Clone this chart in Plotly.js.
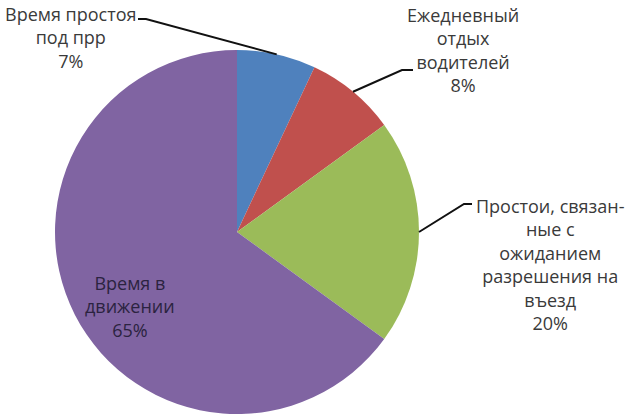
<!DOCTYPE html>
<html>
<head>
<meta charset="utf-8">
<script src="https://cdn.plot.ly/plotly-3.0.1.min.js"></script>
<style>
  body { margin: 0; background: #fff; }
  #pieChart { width: 627px; height: 416px; }
</style>
</head>
<body>
<div id="pieChart"></div>
<script>
// slices, in drawing order (clockwise from 12 o'clock)
var categories = ["Время простоя под прр", "Ежедневный отдых водителей",
  "Простои, связанные с ожиданием разрешения на въезд", "Время в движении"];
var shares = [7, 8, 20, 65];
// label text as broken in the picture
var labelLines = ["Время простоя<br>под прр", "Ежедневный<br>отдых<br>водителей",
  "Простои, связан-<br>ные с<br>ожиданием<br>разрешения на<br>въезд", "Время в<br>движении"];
var sliceColors = ["#4F81BD", "#C0504D", "#9BBB59", "#8064A2"];

var W = 627, H = 416;
var cx = 237, cy = 232, r = 182;

// label centres and elbow points (pixels)
var labelPos = [[70, 37], [463, 50], [550, 264], [130, 306]];
var elbows = [[[138, 19], [146, 19]], [[413, 70], [402, 70]], [[472, 204], [464, 204]], null];

function px(x) { return x / W; }
function py(y) { return 1 - y / H; }

var total = shares.reduce(function (a, b) { return a + b; }, 0);
var annotations = [];
var shapes = [];
var cum = 0;
shares.forEach(function (v, i) {
  var mid = (cum + v / 2) / total * 2 * Math.PI;
  cum += v;
  annotations.push({
    xref: "paper", yref: "paper",
    x: px(labelPos[i][0]), y: py(labelPos[i][1]),
    xanchor: "center", yanchor: "middle",
    text: labelLines[i] + "<br>" + Math.round(v / total * 100) + "%",
    showarrow: false,
    align: "center",
    font: {family: "Open Sans, sans-serif", size: 18, color: i === 3 ? "#2b2340" : "#3a3a3a"}
  });
  if (elbows[i]) {
    var ex = cx + r * Math.sin(mid), ey = cy - r * Math.cos(mid);
    var e = elbows[i];
    shapes.push({
      type: "path", xref: "paper", yref: "paper",
      path: "M" + px(e[0][0]) + "," + py(e[0][1]) + " L" + px(e[1][0]) + "," + py(e[1][1]) +
            " L" + px(ex) + "," + py(ey),
      line: {color: "#111", width: 2}
    });
  }
});

var pieTrace = {
  type: "pie",
  labels: categories,
  values: shares,
  sort: false,
  direction: "clockwise",
  rotation: 0,
  textinfo: "none",
  hoverinfo: "label+percent",
  marker: {colors: sliceColors, line: {width: 0}},
  domain: {x: [px(cx - r), px(cx + r)], y: [py(cy + r), py(cy - r)]}
};

var pieLayout = {
  width: W, height: H,
  margin: {l: 0, r: 0, t: 0, b: 0},
  showlegend: false,
  paper_bgcolor: "#fff",
  annotations: annotations,
  shapes: shapes
};

Plotly.newPlot("pieChart", [pieTrace], pieLayout, {displayModeBar: false});
</script>
</body>
</html>
